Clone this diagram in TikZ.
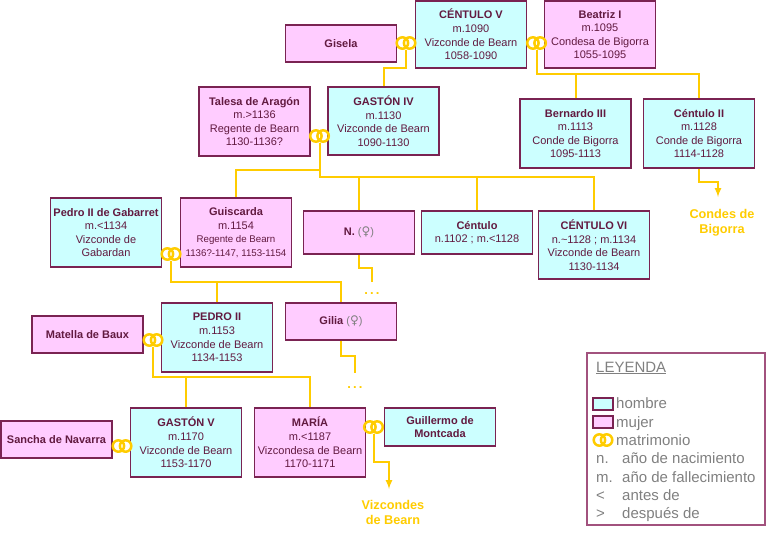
\documentclass[tikz,border=0pt]{standalone}
\usepackage{fontspec}
\setmainfont{Liberation Sans}
\newfontfamily\simbolo{DejaVu Sans}
\usetikzlibrary{positioning}
\definecolor{hombre}{HTML}{CCFFFF}
\definecolor{mujer}{HTML}{FFCCFF}
\definecolor{borde}{HTML}{7A2352}
\definecolor{texto}{HTML}{621A40}
\definecolor{oro}{HTML}{FFCC00}
\definecolor{gris}{HTML}{808080}
\definecolor{bordeley}{HTML}{A2527E}
\newcommand{\fem}{\textcolor{gris}{({\simbolo\fontsize{12}{12}\selectfont ♀})}}
\tikzset{
	persona/.style={draw=borde, line width=1.3pt, minimum width=111pt, align=center, inner sep=1pt, text=texto, font=\fontsize{11}{13.6}\selectfont},
	varon/.style={persona, fill=hombre},
	dama/.style={persona, fill=mujer},
	anillos/.style={minimum width=23pt, minimum height=14.4pt, inner sep=0pt, path picture={
		\draw[oro, line width=2.5pt] ([xshift=-3.6pt]path picture bounding box.center) circle (5.7pt)
			([xshift=3.6pt]path picture bounding box.center) circle (5.7pt);}},
	enlace/.style={draw=oro, line width=2pt},
	destino/.style={text=oro, align=center, font=\fontsize{12.7}{15}\selectfont\bfseries},
	puntos/.style={text=oro, inner sep=0pt, anchor=base, font=\fontsize{13}{15}\selectfont\bfseries},
	clave/.style={text=gris, anchor=base west, inner sep=0pt, font=\fontsize{15}{18}\selectfont},
}
\begin{document}
\begin{tikzpicture}[x=1pt, y=-1pt]
		\useasboundingbox (0,0) rectangle (768,536);
		
		\node[varon, minimum height=67pt] (centulo5) at (471,34.5) {\textbf{CÉNTULO V}\\m.1090\\Vizconde de Bearn\\1058-1090};
		\node[dama, minimum height=67pt] (beatriz) at (600,34.5) {\textbf{Beatriz I}\\m.1095\\Condesa de Bigorra\\1055-1095};
		\node[dama, minimum height=37pt] (gisela) at (341,43.5) {\textbf{Gisela}};
		\node[varon, minimum height=68pt] (gaston4) at (383.5,121) {\textbf{GASTÓN IV}\\m.1130\\Vizconde de Bearn\\1090-1130};
		\node[dama, minimum height=69pt] (talesa) at (254.5,121.5) {\textbf{Talesa de Aragón}\\m.>1136\\Regente de Bearn\\1130-1136?};
		\node[varon, minimum height=69pt] (bernardo) at (575.5,133.5) {\textbf{Bernardo III}\\m.1113\\Conde de Bigorra\\1095-1113};
		\node[varon, minimum height=69pt] (centulo2) at (699,133.5) {\textbf{Céntulo II}\\m.1128\\Conde de Bigorra\\1114-1128};
		
		\node[varon, minimum height=69pt] (gabarret) at (106,232.5) {\textbf{Pedro II de Gabarret}\\m.<1134\\Vizconde de\\Gabardan};
		\node[dama, minimum height=69pt] (guiscarda) at (236,232.5) {\textbf{Guiscarda}\\m.1154\\{\fontsize{9.7}{13.6}\selectfont Regente de Bearn}\\{\fontsize{9.7}{13.6}\selectfont 1136?-1147, 1153-1154}};
		\node[dama, minimum height=43pt] (nfem) at (359,232.5) {\textbf{N.} \fem};
		\node[varon, minimum height=43pt] (centulo) at (477,232.5) {\textbf{Céntulo}\\n.1102 ; m.<1128};
		\node[varon, minimum height=68pt] (centulo6) at (594,245) {\textbf{CÉNTULO VI}\\n.\textasciitilde1128 ; m.1134\\Vizconde de Bearn\\1130-1134};
		
		\node[varon, minimum height=69pt] (pedro2) at (217,337.5) {\textbf{PEDRO II}\\m.1153\\Vizconde de Bearn\\1134-1153};
		\node[dama, minimum height=37pt] (gilia) at (341,321.5) {\textbf{Gilia} \fem};
		\node[dama, minimum height=37pt] (matella) at (87.5,334.5) {\textbf{Matella de Baux}};
		
		\node[varon, minimum height=69pt] (gaston5) at (186,442.5) {\textbf{GASTÓN V}\\m.1170\\Vizconde de Bearn\\1153-1170};
		\node[dama, minimum height=69pt] (maria) at (310,442.5) {\textbf{MARÍA}\\m.<1187\\Vizcondesa de Bearn\\1170-1171};
		\node[dama, minimum height=37pt] (sancha) at (56.5,439.5) {\textbf{Sancha de Navarra}};
		\node[varon, minimum height=38pt] (guillermo) at (440,427) {\textbf{Guillermo de}\\\textbf{Montcada}};
		
		\foreach \n/\x/\y in {r1/406/43, r2/536.5/43, r3/319.5/136, r4/171/254, r5/153/340, r6/122/446, r7/373.5/427}{
			\node[anillos] (\n) at (\x,\y) {};
		}
		
		\coordinate (finN) at (372,282);
		\coordinate (finG) at (355,373);
		\coordinate (finC) at (718,197);
		\coordinate (finV) at (389,489);
		\node[puntos] (puntosN) at (372,294) {.\,.\,.};
		\node[puntos] (puntosG) at (355,388) {.\,.\,.};
		\node[destino] (condes) at (722,222.5) {Condes de\\Bigorra};
		\node[destino] (vizcondes) at (393,512.5) {Vizcondes\\de Bearn};
		
		\draw[enlace] (r1.south) |- (gaston4.north |- 0,68) -- (gaston4.north);
		\draw[enlace] (r2.south) |- (centulo2.north |- 0,74) -- (centulo2.north);
		\draw[enlace] (bernardo.north) -- (bernardo.north |- 0,74);
		\draw[enlace] (r3.south) |- (centulo6.north |- 0,177) -- (centulo6.north);
		\draw[enlace] (r3.south |- 0,170) -| (guiscarda.north);
		\foreach \h in {nfem, centulo}{
			\draw[enlace] (\h.north) -- (\h.north |- 0,177);
		}
		\draw[enlace] (r4.south) |- (gilia.north |- 0,282) -- (gilia.north);
		\draw[enlace] (pedro2.north) -- (pedro2.north |- 0,282);
		\draw[enlace] (nfem.south) |- (finN |- 0,268) -- (finN);
		\draw[enlace] (gilia.south) |- (finG |- 0,356) -- (finG);
		\draw[enlace] (r5.south) |- (maria.north |- 0,377) -- (maria.north);
		\draw[enlace] (gaston5.north) -- (gaston5.north |- 0,377);
		\draw[enlace,-latex] (centulo2.south) |- (finC |- 0,182) -- (finC);
		\draw[enlace,-latex] (r7.south) |- (finV |- 0,462) -- (finV);
		
		\node[draw=bordeley, line width=1.2pt, minimum width=178pt, minimum height=172pt] (leyenda) at (676,439) {};
		\node[clave] (titulo) at (596,372) {\underline{LEYENDA}};
		\node[draw=borde, fill=hombre, line width=1.2pt, minimum width=20pt, minimum height=12pt, inner sep=0pt] (mhombre) at (603,404) {};
		\node[draw=borde, fill=mujer, line width=1.2pt, minimum width=20pt, minimum height=12pt, inner sep=0pt] (mmujer) at (603,422) {};
		\node[anillos] (mring) at (603,440) {};
		\node[clave] (thombre) at (616,408.5) {hombre};
		\node[clave] (tmujer) at (616,427) {mujer};
		\node[clave] (tring) at (616,445) {matrimonio};
		\foreach \y/\a/\b in {463.5/n./año de nacimiento, 482/m./año de fallecimiento, 500.5/</antes de, 518.5/>/después de}{
			\node[clave] at (596,\y) {\a};
			\node[clave] at (622,\y) {\b};
		}
\end{tikzpicture}
\end{document}
